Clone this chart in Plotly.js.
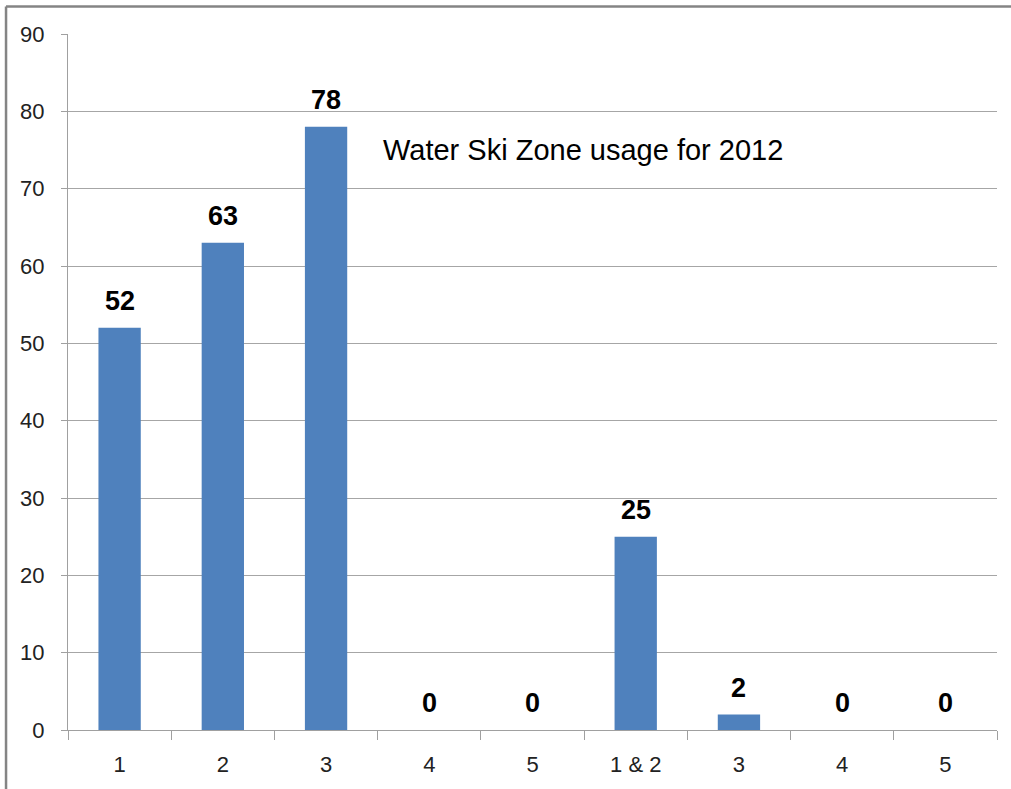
<!DOCTYPE html>
<html>
<head>
<meta charset="utf-8">
<script src="https://cdn.plot.ly/plotly-3.0.1.min.js"></script>
<style>html,body{margin:0;padding:0;background:#fff;}#chart{width:1011px;height:789px;}</style>
</head>
<body>
<div id="chart"></div>
<script>
const categories = ["1", "2", "3", "4", "5", "1 & 2", "3", "4", "5"];
const usage = [52, 63, 78, 0, 0, 25, 2, 0, 0];
const chartTitle = "Water Ski Zone usage for 2012";
const yTicks = [0, 10, 20, 30, 40, 50, 60, 70, 80, 90];

const xpos = categories.map((c, i) => i);

const trace = {
  type: 'bar',
  x: xpos,
  y: usage,
  width: 0.41,
  marker: {color: '#4f81bd', line: {width: 0}},
  hoverinfo: 'skip'
};

const labelAnnotations = usage.map((v, i) => ({
  x: xpos[i], y: v, xref: 'x', yref: 'y',
  text: String(v), showarrow: false,
  yanchor: 'bottom', yshift: 10,
  font: {family: 'Liberation Sans, Arial, sans-serif', size: 27, color: '#000', weight: 'bold'}
}));

const layout = {
  width: 1011, height: 789,
  margin: {l: 68, r: 14, t: 34, b: 59},
  paper_bgcolor: '#fff', plot_bgcolor: '#fff',
  showlegend: false,
  font: {family: 'Liberation Sans, Arial, sans-serif', color: '#000'},
  xaxis: {
    type: 'linear',
    range: [-0.5, 8.5],
    tickmode: 'array',
    tickvals: xpos,
    ticktext: categories,
    ticks: '',
    showgrid: false,
    zeroline: false,
    showline: true, linecolor: '#a0a0a0', linewidth: 1,
    tickfont: {size: 22, color: '#222'},
    ticklabelstandoff: 15,
    minor: {tickmode: 'linear', tick0: -0.5, dtick: 1, ticks: 'outside', ticklen: 9, tickcolor: '#a0a0a0', tickwidth: 1, showgrid: false},
    fixedrange: true
  },
  yaxis: {
    range: [0, 90],
    tickmode: 'array',
    tickvals: yTicks,
    ticks: 'outside', ticklen: 6, tickcolor: '#a0a0a0',
    showgrid: true, gridcolor: '#a6a6a6', gridwidth: 1,
    zeroline: false,
    showline: true, linecolor: '#a0a0a0', linewidth: 1,
    tickfont: {size: 22, color: '#222'},
    ticklabelstandoff: 12,
    fixedrange: true
  },
  annotations: labelAnnotations.concat([{
    xref: 'paper', yref: 'paper', x: 0.554, y: 0.833,
    xanchor: 'center', yanchor: 'middle',
    text: chartTitle, showarrow: false,
    font: {family: 'Liberation Sans, Arial, sans-serif', size: 29, color: '#000'}
  }]),
  shapes: [
    {type: 'line', xref: 'paper', yref: 'paper', x0: -0.0667, x1: 1.02, y0: 1.0395, y1: 1.0395, line: {color: '#848484', width: 2.5}},
    {type: 'line', xref: 'paper', yref: 'paper', x0: -0.0667, x1: -0.0667, y0: 1.0395, y1: -0.09, line: {color: '#848484', width: 2.5}}
  ]
};

Plotly.newPlot('chart', [trace], layout, {displayModeBar: false, staticPlot: true});
</script>
</body>
</html>
